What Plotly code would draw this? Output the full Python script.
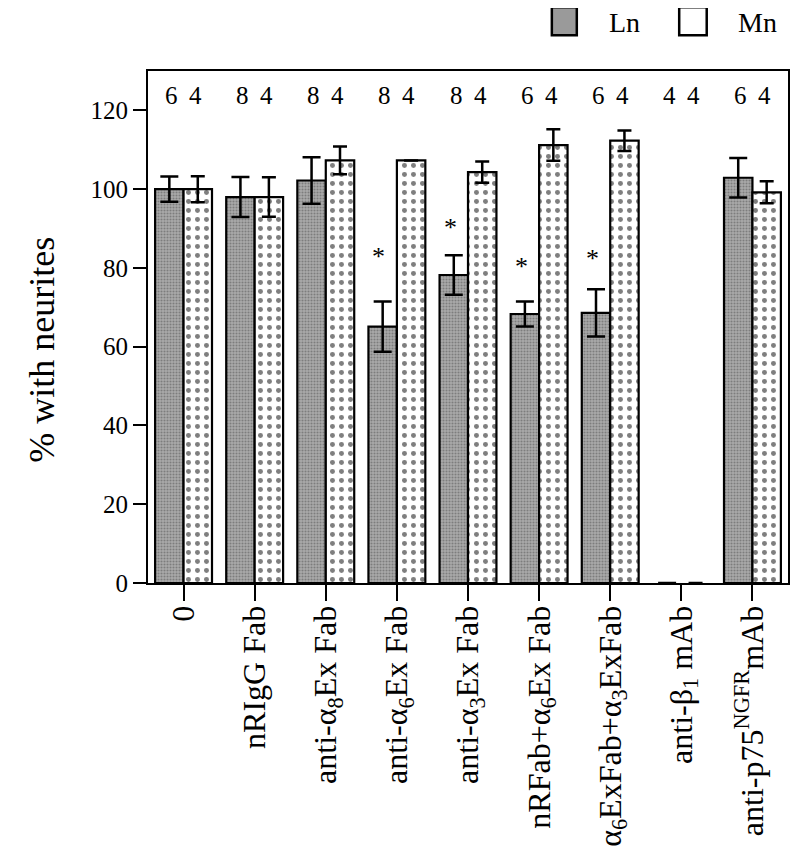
import plotly.graph_objects as go

categories = ["0", "nRIgG Fab", "anti-α<sub>8</sub>Ex Fab", "anti-α<sub>6</sub>Ex Fab",
              "anti-α<sub>3</sub>Ex Fab", "nRFab+α<sub>6</sub>Ex Fab",
              "α<sub>6</sub>ExFab+α<sub>3</sub>ExFab", "anti-β<sub>1</sub> mAb",
              "anti-p75<sup>NGFR</sup>mAb"]
ln_values = [100.0, 98.0, 102.2, 65.1, 78.2, 68.3, 68.6, 0, 102.9]
ln_errors = [3.2, 5.1, 5.9, 6.4, 5.0, 3.2, 6.0, None, 5.0]
mn_values = [100.0, 98.0, 107.3, 107.3, 104.3, 111.2, 112.3, 0, 99.2]
mn_errors = [3.3, 5.0, 3.5, None, 2.7, 4.0, 2.6, None, 2.8]
ln_n = ["6", "8", "8", "8", "8", "6", "6", "4", "6"]
mn_n = ["4", "4", "4", "4", "4", "4", "4", "4", "4"]
star_cats = [3, 4, 5, 6]
star_y = [83.9, 91.4, 81.4, 83.3]
n_y = 123.7
legend_names = ["Ln", "Mn"]

FONT = "Liberation Serif, Times New Roman, serif"
LN_FILL = "#9a9a9a"
x_idx = list(range(len(categories)))
outline = [0 if v == 0 else 2.2 for v in ln_values]
outline_mn = [0 if v == 0 else 2.2 for v in mn_values]
op_ln = [0 if v == 0 else 1 for v in ln_values]
op_mn = [0 if v == 0 else 1 for v in mn_values]

fig = go.Figure()
fig.add_trace(go.Bar(
    name="Ln", x=x_idx, y=ln_values, showlegend=False,
    marker=dict(color=LN_FILL, opacity=op_ln, line=dict(color="black", width=outline),
                pattern=dict(shape=".", size=3, solidity=0.4,
                             fgcolor="#505050", bgcolor="#ababab")),
    error_y=dict(type="data", array=ln_errors, visible=True,
                 color="black", thickness=2.5, width=9),
))
fig.add_trace(go.Bar(
    name="Mn", x=x_idx, y=mn_values, showlegend=False,
    marker=dict(color="white", opacity=op_mn, line=dict(color="black", width=outline_mn),
                pattern=dict(shape=".", size=9, solidity=0.24,
                             fgcolor="black", bgcolor="white")),
    error_y=dict(type="data", array=mn_errors, visible=True,
                 color="black", thickness=2.5, width=7),
))

annotations = []
for i in x_idx:
    annotations.append(dict(x=i, y=n_y, text=ln_n[i], showarrow=False,
                            xshift=-12, font=dict(family=FONT, size=25, color="black")))
    annotations.append(dict(x=i, y=n_y, text=mn_n[i], showarrow=False,
                            xshift=12, font=dict(family=FONT, size=25, color="black")))
for c, yv in zip(star_cats, star_y):
    annotations.append(dict(x=c, y=yv, text="*", showarrow=False, xshift=-18,
                            yshift=-4, font=dict(family=FONT, size=26, color="black")))

# y-axis title (placed as rotated text, slightly below the axis centre like the reference)
annotations.append(dict(xref="paper", yref="paper", x=-0.166, y=0.455,
                        text="% with neurites", textangle=-90, showarrow=False,
                        xanchor="center", yanchor="middle",
                        font=dict(family=FONT, size=36, color="black")))

# legend drawn at top right
legend_boxes = [(0.631, 0.670), (0.830, 0.873)]
legend_text_x = [0.717, 0.918]
legend_fill = [LN_FILL, "white"]
shapes = []
for (x0, x1), tx, name, fill in zip(legend_boxes, legend_text_x, legend_names, legend_fill):
    shapes.append(dict(type="rect", xref="paper", yref="paper", x0=x0, x1=x1,
                       y0=1.0697, y1=1.1245, fillcolor=fill,
                       line=dict(color="black", width=2.5)))
    annotations.append(dict(xref="paper", yref="paper", x=tx, y=1.0956, text=name,
                            showarrow=False, xanchor="left", yanchor="middle",
                            font=dict(family=FONT, size=28, color="black")))

fig.update_layout(
    width=792, height=857,
    margin=dict(l=140, r=12, t=63, b=282, autoexpand=False),
    paper_bgcolor="white", plot_bgcolor="white",
    barmode="group", bargap=0.2, bargroupgap=0,
    font=dict(family=FONT, color="black"),
    showlegend=False,
    annotations=annotations,
    shapes=shapes,
    xaxis=dict(tickmode="array", tickvals=x_idx, ticktext=categories,
               range=[-0.5, 8.5], tickangle=-90, ticks="outside", ticklen=16,
               tickwidth=2, tickcolor="black", showline=True, linecolor="black",
               linewidth=2, mirror=True, showgrid=False, zeroline=False,
               automargin=False, ticklabelstandoff=-8,
               tickfont=dict(family=FONT, size=32, color="black")),
    yaxis=dict(range=[0, 130], tickvals=[0, 20, 40, 60, 80, 100, 120],
               ticks="outside", ticklen=13, tickwidth=2, tickcolor="black",
               showline=True, linecolor="black", linewidth=2, mirror=True,
               showgrid=False, zeroline=False, automargin=False,
               tickfont=dict(family=FONT, size=25, color="black")),
)

fig.write_html("out.html")
